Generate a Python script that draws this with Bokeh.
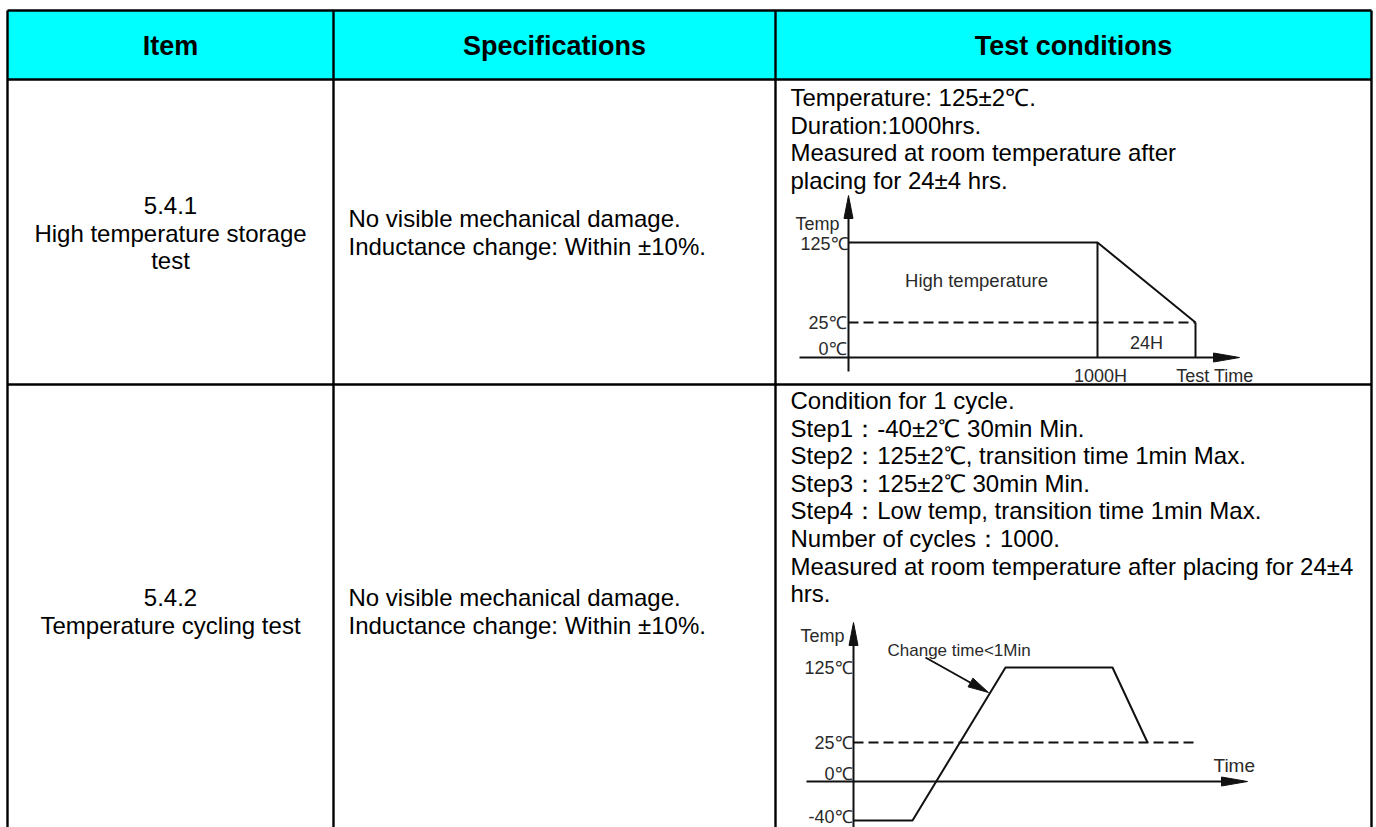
from bokeh.plotting import figure
from bokeh.models import Range1d
from bokeh.core.properties import value
from bokeh.embed import file_html
from bokeh.resources import INLINE

# ---------------- data ----------------
headers = ["Item", "Specifications", "Test conditions"]
item_codes = ["5.4.1", "5.4.2"]
item_names = [["High temperature storage", "test"], ["Temperature cycling test"]]
spec_lines = ["No visible mechanical damage.", "Inductance change: Within ±10%."]
cond_storage = [
    "Temperature: 125±2℃.",
    "Duration:1000hrs.",
    "Measured at room temperature after",
    "placing for 24±4 hrs.",
]
cond_cycling = [
    "Condition for 1 cycle.",
    "Step1：-40±2℃  30min Min.",
    "Step2：125±2℃, transition time 1min Max.",
    "Step3：125±2℃  30min Min.",
    "Step4：Low temp, transition time 1min Max.",
    "Number of cycles：1000.",
    "Measured at room temperature after placing for 24±4",
    "hrs.",
]

# diagram 1: high temperature storage profile
storage_levels = [125, 25, 0]
storage_level_labels = ["125℃", "25℃", "0℃"]
storage_profile_t = [0, 1000, 1024]      # hours
storage_profile_T = [125, 125, 25]       # deg C
storage_area_label = "High temperature"
storage_recovery_label = "24H"
storage_time_label = "1000H"

# diagram 2: temperature cycling profile (one cycle)
cycle_levels = [125, 25, 0, -40]
cycle_level_labels = ["125℃", "25℃", "0℃", "-40℃"]
cycle_phase = [0, 1, 2, 3, 4]            # start, step1 end, step2 end, step3 end, step4 end
cycle_profile_T = [-40, -40, 125, 125, 25]
cycle_note = "Change time<1Min"

# ---------------- layout (screen pixels) ----------------
W, H = 1376, 827
COLS = [7, 333, 775, 1371]
ROWS = [10, 79, 384, 838]
FONT = value("Liberation Sans")
BODY = "24px"
DIAG = "18px"
LINE = "#111111"
DTXT = "#2a2a2a"

p = figure(width=W, height=H, x_range=Range1d(0, W), y_range=Range1d(H, 0),
           output_backend="svg", toolbar_location=None, min_border=0,
           x_axis_type=None, y_axis_type=None)
p.outline_line_color = None
p.background_fill_color = "white"
p.border_fill_color = "white"


def txt(xs, ys, texts, size=BODY, align="left", color="black", style="normal"):
    p.text(x=xs, y=ys, text=texts, text_font=FONT, text_font_size=size,
           text_align=align, text_baseline="middle", text_color=color,
           text_font_style=style)


def head(tip, base, hw):
    # triangle arrow head from tip backwards to base point
    tx, ty = tip
    bx, by = base
    dx, dy = tx - bx, ty - by
    L = (dx * dx + dy * dy) ** 0.5
    nx, ny = -dy / L, dx / L
    return [tx, bx + nx * hw, bx - nx * hw], [ty, by + ny * hw, by - ny * hw]


# ---------------- table ----------------
p.quad(left=COLS[0], right=COLS[-1], top=ROWS[0], bottom=ROWS[1],
       fill_color="#00FFFF", line_color=None)
hx = [[COLS[0], COLS[-1]] for _ in ROWS]
hy = [[r, r] for r in ROWS]
vx = [[c, c] for c in COLS]
vy = [[ROWS[0], ROWS[-1]] for _ in COLS]
p.multi_line(xs=hx + vx, ys=hy + vy, line_color="black", line_width=2.4)

col_centers = [(COLS[i] + COLS[i + 1]) / 2 for i in range(3)]
txt(col_centers, [45] * 3, headers, size="27px", align="center", style="bold")

# item column
row_item_start = [205, 597]
for r, code in enumerate(item_codes):
    lines = [code] + item_names[r]
    ys = [row_item_start[r] + i * 27.6 for i in range(len(lines))]
    txt([col_centers[0]] * len(lines), ys, lines, align="center")

# specification column
for y0 in [218, 597]:
    txt([348] * 2, [y0, y0 + 28], spec_lines)

# test conditions text
txt([790] * len(cond_storage), [97 + i * 27.7 for i in range(len(cond_storage))], cond_storage)
txt([790] * len(cond_cycling), [400 + i * 27.6 for i in range(len(cond_cycling))], cond_cycling)

# ---------------- diagram 1 ----------------
y1 = dict(zip(storage_levels, [242, 322, 357]))
x1 = dict(zip(storage_profile_t, [848, 1097, 1195]))
ax0 = x1[0]
# axes
p.line([ax0, ax0], [371, 210], line_color=LINE, line_width=2)
p.line([799, 1220], [y1[0], y1[0]], line_color=LINE, line_width=2)
hxs, hys = head((ax0, 195), (ax0, 218), 4.5)
hxs2, hys2 = head((1239, y1[0]), (1213, y1[0]), 4.5)
p.patches([hxs, hxs2], [hys, hys2], fill_color=LINE, line_color=LINE, line_width=1)
# profile
p.line([x1[t] for t in storage_profile_t],
       [y1[T] for T in storage_profile_T], line_color=LINE, line_width=2)
p.line([x1[1000], x1[1000]], [y1[125], y1[0]], line_color=LINE, line_width=2)
p.line([x1[1024], x1[1024]], [y1[25], y1[0]], line_color=LINE, line_width=2)
p.line([ax0, x1[1024]], [y1[25], y1[25]], line_color=LINE, line_width=1.8, line_dash="10 5")
# labels
txt([839], [223], ["Temp"], size=DIAG, align="right", color=DTXT)
txt([848, 846, 846], [y1[125] + 1, y1[25], y1[0] - 9], storage_level_labels,
    size=DIAG, align="right", color=DTXT)
txt([976], [280], [storage_area_label], size="18.5px", align="center", color=DTXT)
txt([(x1[1000] + x1[1024]) / 2], [342], [storage_recovery_label], size=DIAG, align="center", color=DTXT)
txt([x1[1000] + 3], [375], [storage_time_label], size=DIAG, align="center", color=DTXT)
txt([1217], [375], ["Test  Time"], size=DIAG, align="center", color=DTXT)

# ---------------- diagram 2 ----------------
y2 = dict(zip(cycle_levels, [667, 742, 781, 820]))
x2 = dict(zip(cycle_phase, [853, 912, 1005, 1112, 1147]))
bx0 = x2[0]
p.line([bx0, bx0], [850, 640], line_color=LINE, line_width=2)
p.line([806, 1225], [y2[0], y2[0]], line_color=LINE, line_width=2)
a1x, a1y = head((bx0, 622), (bx0, 645), 4.5)
a2x, a2y = head((1247, y2[0]), (1221, y2[0]), 4.5)
a3x, a3y = head((988, 692), (970, 682), 5)
p.patches([a1x, a2x, a3x], [a1y, a2y, a3y], fill_color=LINE, line_color=LINE, line_width=1)
p.line([x2[k] for k in cycle_phase], [y2[T] for T in cycle_profile_T],
       line_color=LINE, line_width=2)
p.line([bx0, 1193], [y2[25], y2[25]], line_color=LINE, line_width=1.8, line_dash="10 5")
p.line([925, 975], [657, 685], line_color=LINE, line_width=2)
txt([822], [635], ["Temp"], size=DIAG, align="center", color=DTXT)
txt([887], [650], [cycle_note], size="17px", color=DTXT)
txt([852] * len(cycle_levels), [y2[125], y2[25], y2[0] - 8, 816], cycle_level_labels,
    size=DIAG, align="right", color=DTXT)
txt([1213], [765], ["Time"], size="19px", color=DTXT)

open("out.html", "w").write(file_html(p, INLINE))
